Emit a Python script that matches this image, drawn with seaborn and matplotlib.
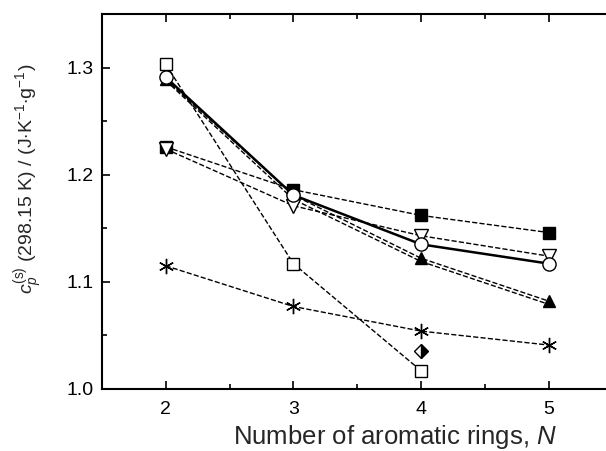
import matplotlib
matplotlib.use('Agg')
import matplotlib.pyplot as plt
import seaborn as sns
from matplotlib.ticker import MultipleLocator

# Data
rings = [2, 3, 4, 5]
open_circle = [1.291, 1.181, 1.135, 1.117]
open_square = [1.303, 1.117, 1.017]
filled_square = [1.226, 1.186, 1.162, 1.146]
open_tri_down = [1.224, 1.171, 1.143, 1.124]
filled_tri_up = [1.289, 1.181, 1.122, 1.082]
hidden_series = [1.288, 1.177, 1.119, 1.079]
asterisk = [1.115, 1.077, 1.054, 1.041]
diamond_x = [4]
diamond_y = [1.035]

sns.set_style('ticks')
plt.rcParams['font.family'] = ['Liberation Sans', 'DejaVu Sans']
plt.rcParams['mathtext.fontset'] = 'custom'
plt.rcParams['mathtext.rm'] = 'Liberation Sans'
plt.rcParams['mathtext.it'] = 'Liberation Sans:italic'

fig = plt.figure(figsize=(6.06, 4.51), dpi=100)
ax = fig.add_axes([0.168, 0.1375, 0.843, 0.8315])

dash = dict(color='black', linestyle='--', linewidth=1.0, markeredgecolor='black',
            markeredgewidth=1.0, legend=False)

sns.lineplot(x=rings, y=hidden_series, ax=ax, zorder=2, **dash)
sns.lineplot(x=rings, y=filled_square, marker='s', markersize=8,
             markerfacecolor='black', ax=ax, zorder=3, **dash)
sns.lineplot(x=rings, y=filled_tri_up, marker='^', markersize=9,
             markerfacecolor='black', ax=ax, zorder=3, **dash)
sns.lineplot(x=rings, y=open_tri_down, marker='v', markersize=10,
             markerfacecolor='white', ax=ax, zorder=4, **dash)
sns.lineplot(x=rings, y=open_circle, marker='o', markersize=9.5,
             markerfacecolor='white', markeredgecolor='black', markeredgewidth=1.0,
             color='black', linewidth=1.8, ax=ax, zorder=5, legend=False)
sns.lineplot(x=rings[:3], y=open_square, marker='s', markersize=8,
             markerfacecolor='white', ax=ax, zorder=6, **dash)
sns.lineplot(x=rings, y=asterisk, marker=(6, 2, 0), markersize=11, ax=ax, zorder=6, **dash)
ax.plot(diamond_x, diamond_y, linestyle='none', marker='D', markersize=7,
        fillstyle='right', markerfacecolor='black', markerfacecoloralt='white',
        markeredgecolor='black', markeredgewidth=1.0, zorder=7)

ax.set_xlim(1.5, 5.5)
ax.set_ylim(1.0, 1.35)
ax.xaxis.set_major_locator(MultipleLocator(1))
ax.xaxis.set_minor_locator(MultipleLocator(0.5))
ax.yaxis.set_major_locator(MultipleLocator(0.1))
ax.yaxis.set_minor_locator(MultipleLocator(0.05))
ax.tick_params(which='both', direction='in', top=True, right=False, width=1.2, colors='black')
ax.tick_params(which='major', length=6, labelsize=14)
ax.tick_params(which='minor', length=3.5)
ax.tick_params(axis='x', pad=9)
ax.tick_params(axis='y', pad=6)
for sp in ax.spines.values():
    sp.set_linewidth(1.5)
    sp.set_color('black')

ax.set_xlabel('Number of aromatic rings, $\\mathit{N}$', fontsize=18.5)
ax.xaxis.set_label_coords(0.573, -0.092)
ax.set_ylabel('$c_p^{(\\mathrm{s})}$ (298.15 K) / (J$\\cdot$K$^{-1}$$\\cdot$g$^{-1}$)',
              fontsize=14)
ax.yaxis.set_label_coords(-0.112, 0.56)

fig.savefig('out.png', dpi=100)
